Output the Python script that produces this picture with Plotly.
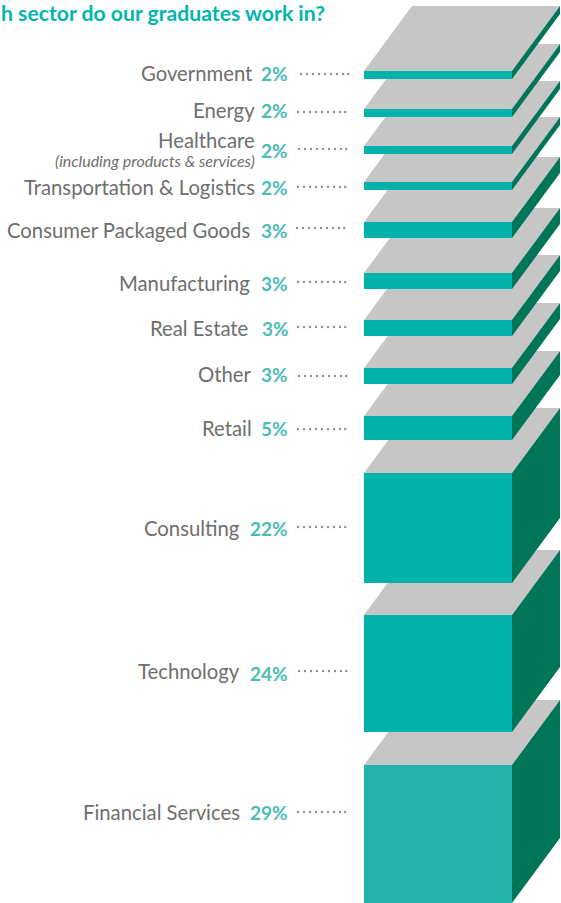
import plotly.graph_objects as go

# ---- data ----
sectors = ["Government", "Energy", "Healthcare", "Transportation & Logistics",
           "Consumer Packaged Goods", "Manufacturing", "Real Estate", "Other",
           "Retail", "Consulting", "Technology", "Financial Services"]
shares = [2, 2, 2, 2, 3, 3, 3, 3, 5, 22, 24, 29]
# drawn thickness of each block and where its front face starts (axis units = px of the page)
block_height = [8, 8, 8, 8, 16, 16, 16, 16, 24, 110, 117, 138]
block_top = [71, 109, 146, 182, 222, 273, 320, 368, 416, 473, 615, 765]

title_text = "h sector do our graduates work in?"
healthcare_note = "(including products & services)"

# ---- layout of the texts and leaders ----
label_right = [255, 257, 257, 257, 252, 252, 250, 253, 254, 242, 242, 242]
label_y = [73, 110, 140, 187, 230, 283, 328, 374, 428, 528, 671, 812]
pct_right = [290, 290, 290, 290, 290, 290, 291, 290, 290, 290, 290, 290]
pct_y = [73, 110, 150, 187, 230, 283, 328, 374, 428, 528, 673, 812]
leader_start = [301, 298, 299, 298, 297, 298, 298, 299, 298, 298, 299, 298]
leader_y = [74, 112, 149, 187, 228, 282, 327, 376, 429, 527, 671, 812]

FRONT_X0, FRONT_X1 = 364, 512
DEPTH_X, DEPTH_Y = 48, 65
TOP = "#C6C6C6"
FRONT = "#00B2A9"
FRONT_LAST = "#22B4AA"
SIDE = "#007558"
GREY_TEXT = "#6E6E6E"
PCT = "#4DBDB3"
FONT = "Lato"

fig = go.Figure()


def face(xs, ys, color, name):
    fig.add_trace(go.Scatter(x=xs + xs[:1], y=ys + ys[:1], mode="lines", fill="toself",
                             fillcolor=color, line=dict(width=0, color=color),
                             name=name, hoverinfo="name", showlegend=False))


# lower blocks first: each upper block paints over the one beneath it
for i in reversed(range(len(sectors))):
    t, b = block_top[i], block_top[i] + block_height[i]
    label = f"{sectors[i]} {shares[i]}%"
    face([FRONT_X0, FRONT_X1, FRONT_X1 + DEPTH_X, FRONT_X0 + DEPTH_X],
         [t, t, t - DEPTH_Y, t - DEPTH_Y], TOP, label)
    face([FRONT_X1, FRONT_X1 + DEPTH_X, FRONT_X1 + DEPTH_X, FRONT_X1],
         [t, t - DEPTH_Y, b - DEPTH_Y, b], SIDE, label)
    face([FRONT_X0, FRONT_X1, FRONT_X1, FRONT_X0],
         [t, t, b, b], FRONT_LAST if i == len(sectors) - 1 else FRONT, label)

# dotted leaders
for i, s in enumerate(leader_start):
    xs = [s + 6 * k for k in range(8)] + [s + 47.2]
    fig.add_trace(go.Scatter(x=xs, y=[leader_y[i]] * len(xs), mode="markers",
                             marker=dict(size=2.4, color="#8F8F8F", line=dict(width=0)),
                             hoverinfo="skip", showlegend=False))

annotations = [dict(x=0, y=13, xshift=-1, text=f"<b>{title_text}</b>", xanchor="left", yanchor="middle",
                    showarrow=False, font=dict(family=FONT, size=21.2, color="#00B5AD"))]
for i, name in enumerate(sectors):
    annotations.append(dict(x=label_right[i], y=label_y[i], text=name, xanchor="right", yanchor="middle",
                            showarrow=False, font=dict(family=FONT, size=20.3, color=GREY_TEXT)))
    annotations.append(dict(x=pct_right[i], y=pct_y[i], text=f"<b>{shares[i]}%</b>", xanchor="right",
                            yanchor="middle", showarrow=False, font=dict(family=FONT, size=19, color=PCT)))
annotations.append(dict(x=257, y=160, text=f"<i>{healthcare_note}</i>", xanchor="right", yanchor="middle",
                        showarrow=False, font=dict(family=FONT, size=16, color=GREY_TEXT)))

fig.update_layout(width=561, height=903, margin=dict(l=0, r=0, t=0, b=0),
                  paper_bgcolor="white", plot_bgcolor="white", showlegend=False,
                  xaxis=dict(range=[0, 561], visible=False, fixedrange=True),
                  yaxis=dict(range=[903, 0], visible=False, fixedrange=True),
                  annotations=annotations)

fig.write_html("out.html", config=dict(displayModeBar=False),
               post_script="document.body.style.margin='0';document.body.style.overflow='hidden';")
